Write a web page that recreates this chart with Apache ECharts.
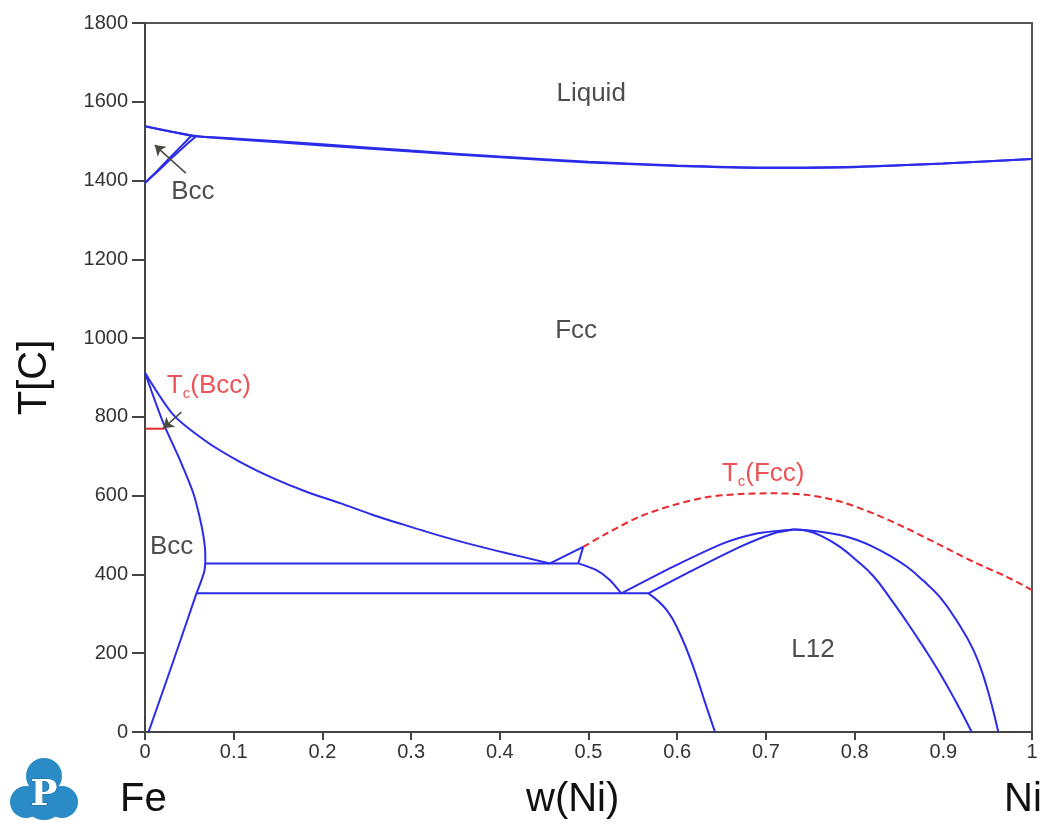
<!DOCTYPE html>
<html>
<head>
<meta charset="utf-8">
<script src="https://cdn.jsdelivr.net/npm/echarts@6/dist/echarts.min.js"></script>
<style>
html,body{margin:0;padding:0;background:#fff;}
#chart{width:1061px;height:829px;}
</style>
</head>
<body>
<div id="chart"></div>
<script>
// ---- axis ticks ----
const xTicks = [0,0.1,0.2,0.3,0.4,0.5,0.6,0.7,0.8,0.9,1];
const yTicks = [0,200,400,600,800,1000,1200,1400,1600,1800];

// ---- phase boundaries [w(Ni), T(C)] ----
const liquidus = [[0,1538],[0.058,1513],[0.1,1507],[0.2,1492],[0.3,1476],[0.4,1461],[0.5,1448],[0.6,1438],[0.7,1433],[0.8,1435],[0.9,1443],[1,1455]];
const fccSolidus = [[0.052,1513],[0.1,1505],[0.2,1489],[0.3,1474],[0.4,1459],[0.5,1446],[0.6,1437],[0.7,1432],[0.8,1434],[0.9,1443],[1,1455]];
const bccSolidus = [[0,1538],[0.052,1514]];
const deltaSolvus = [[0,1394],[0.014,1425],[0.028,1458],[0.042,1490],[0.052,1513]];
const gammaSolvusHigh = [[0,1394],[0.015,1425],[0.03,1457],[0.045,1488],[0.058,1513]];
const fccAlpha = [[0,912],[0.032,805],[0.0695,737],[0.107,686],[0.145,644],[0.182,610],[0.22,581],[0.257,551],[0.295,524],[0.333,498],[0.37,475],[0.408,454],[0.4566,428]];
const alphaUpper = [[0,912],[0.0207,784],[0.0395,690],[0.0545,606],[0.064,521],[0.0675,470],[0.068,440],[0.0665,405],[0.058,352]];
const alphaLower = [[0.058,352],[0.031,174],[0.004,0]];
const upperTie = [[0.068,428],[0.4885,428]];
const lowerTie = [[0.058,352],[0.5675,352]];
const triLeft = [[0.4566,428],[0.494,470]];
const triRight = [[0.4885,428],[0.494,470]];
const fccCurve = [[0.4885,428],[0.509,411],[0.524,386],[0.537,352]];
const l12LeftA = [[0.537,352],[0.5956,420],[0.652,479],[0.6896,504],[0.716,511],[0.731,514]];
const l12LeftB = [[0.5675,352],[0.6144,407],[0.6708,470],[0.7084,504],[0.731,514]];
const l12RightA = [[0.731,514],[0.746,511],[0.765,495],[0.7835,470],[0.802,436],[0.821,396],[0.84,340],[0.8587,280],[0.877,218],[0.896,150],[0.914,78],[0.932,0]];
const l12RightB = [[0.731,514],[0.755,510],[0.7835,500],[0.802,488],[0.821,470],[0.84,447],[0.8587,420],[0.877,385],[0.896,343],[0.915,283],[0.934,208],[0.948,122],[0.962,0]];
const lowFeSide = [[0.5675,352],[0.588,310],[0.603,250],[0.618,166],[0.633,64],[0.6426,0]];
const tcBcc = [[0,770],[0.022,770]];
const tcFcc = [[0.494,470],[0.5205,504],[0.558,547],[0.5956,576],[0.633,596],[0.671,604],[0.708,606],[0.746,602],[0.7835,585],[0.821,555],[0.8587,517],[0.896,475],[0.934,432],[0.9715,394],[1,360]];

// ---- annotations ----
const arrows = [
  [[0.046,1419],[0.011,1490]],
  [[0.041,812],[0.0206,771]]
];
const labels = [
  {pos:[0.503,1620], text:'Liquid', red:false},
  {pos:[0.486,1018], text:'Fcc', red:false},
  {pos:[0.054,1371], text:'Bcc', red:false},
  {pos:[0.030,470], text:'Bcc', red:false},
  {pos:[0.753,208], text:'L12', red:false},
  {pos:[0.072,878], text:'{t|T}{s|c}{t|(Bcc)}', red:true},
  {pos:[0.697,655], text:'{t|T}{s|c}{t|(Fcc)}', red:true}
];

const BLUE = '#2b2be8';
const RED = '#e8282c';
const FONT = '"Liberation Sans", Arial, sans-serif';

const blueCurves = [liquidus, fccSolidus, bccSolidus, deltaSolvus, gammaSolvusHigh, fccAlpha, alphaUpper, alphaLower,
  upperTie, lowerTie, triLeft, triRight, fccCurve, l12LeftA, l12LeftB, l12RightA, l12RightB, lowFeSide];
const extraSmooth = [l12RightA, l12RightB, lowFeSide];

const series = [];
blueCurves.forEach(c => series.push({
  type:'line', data:c, showSymbol:false,
  smooth: c.length > 2 ? (extraSmooth.includes(c) ? 0.45 : 0.25) : false,
  lineStyle:{color:BLUE, width:2}, silent:true, z:3
}));
series.push({type:'line', data:tcBcc, showSymbol:false, lineStyle:{color:RED, width:2}, silent:true, z:3});
series.push({type:'line', data:tcFcc, showSymbol:false, smooth:0.3, lineStyle:{color:RED, width:2, type:[7,4]}, silent:true, z:3});
series.push({
  type:'lines', coordinateSystem:'cartesian2d', silent:true, z:4,
  symbol:['none','arrow'], symbolSize:10,
  lineStyle:{color:'#4a4a40', width:1.5, opacity:1},
  data: arrows.map(a => ({coords:a}))
});
series.push({
  type:'scatter', symbolSize:0, silent:true, z:5,
  data: labels.map(l => ({value:l.pos, label:{
    show:true, position:'inside', formatter:l.text,
    color: l.red ? RED : '#222', fontSize:26, fontFamily:FONT,
    rich: l.red ? {
      t:{color:RED, fontSize:26, fontFamily:FONT, lineHeight:30},
      s:{color:RED, fontSize:15, fontFamily:FONT, verticalAlign:'bottom', lineHeight:20}
    } : undefined
  }}))
});

const chart = echarts.init(document.getElementById('chart'), null, {renderer:'canvas'});
chart.setOption({
  backgroundColor:'#fff',
  animation:false,
  grid:{left:145, right:29, top:23, bottom:97, show:true, borderColor:'#555', borderWidth:2, backgroundColor:'transparent'},
  xAxis:{
    type:'value', min:0, max:1, interval:0.1,
    axisLine:{show:true, lineStyle:{color:'#444', width:2}},
    axisTick:{show:true, length:8, lineStyle:{color:'#444', width:2}},
    splitLine:{show:false},
    axisLabel:{color:'#333', fontSize:20, fontFamily:FONT, margin:10,
      formatter:v => { const i = xTicks.findIndex(t => Math.abs(t-v)<1e-6); return i>=0 ? String(xTicks[i]) : ''; }}
  },
  yAxis:{
    type:'value', min:0, max:1800, interval:200,
    name:'T[C]', nameLocation:'middle', nameGap:90, nameRotate:90,
    nameTextStyle:{color:'#111', fontSize:40, fontFamily:FONT},
    axisLine:{show:true, lineStyle:{color:'#444', width:2}},
    axisTick:{show:true, length:13, lineStyle:{color:'#444', width:2}},
    splitLine:{show:false},
    axisLabel:{color:'#333', fontSize:20, fontFamily:FONT, margin:17,
      formatter:v => { const i = yTicks.indexOf(Math.round(v)); return i>=0 ? String(yTicks[i]) : ''; }}
  },
  graphic:[
    {type:'text', left:120, top:780, style:{text:'Fe', fontSize:40, fontFamily:FONT, fill:'#111'}},
    {type:'text', left:526, top:780, style:{text:'w(Ni)', fontSize:40, fontFamily:FONT, fill:'#111'}},
    {type:'text', left:1004, top:780, style:{text:'Ni', fontSize:40, fontFamily:FONT, fill:'#111'}},
    {type:'group', left:10, top:758, children:[
      {type:'circle', shape:{cx:38, cy:24, r:18}, style:{fill:'#2a8bc6'}},
      {type:'circle', shape:{cx:20, cy:50, r:16}, style:{fill:'#2a8bc6'}},
      {type:'circle', shape:{cx:56, cy:50, r:16}, style:{fill:'#2a8bc6'}},
      {type:'circle', shape:{cx:38, cy:48, r:20}, style:{fill:'#2a8bc6'}},
      {type:'text', x:38, y:44, style:{text:'P', fontSize:36, fontWeight:'bold', fontFamily:'"DejaVu Serif", serif', fill:'#fff', stroke:'#1c6f9f', lineWidth:1, align:'center', verticalAlign:'middle'}}
    ]}
  ],
  series: series
});
</script>
</body>
</html>
